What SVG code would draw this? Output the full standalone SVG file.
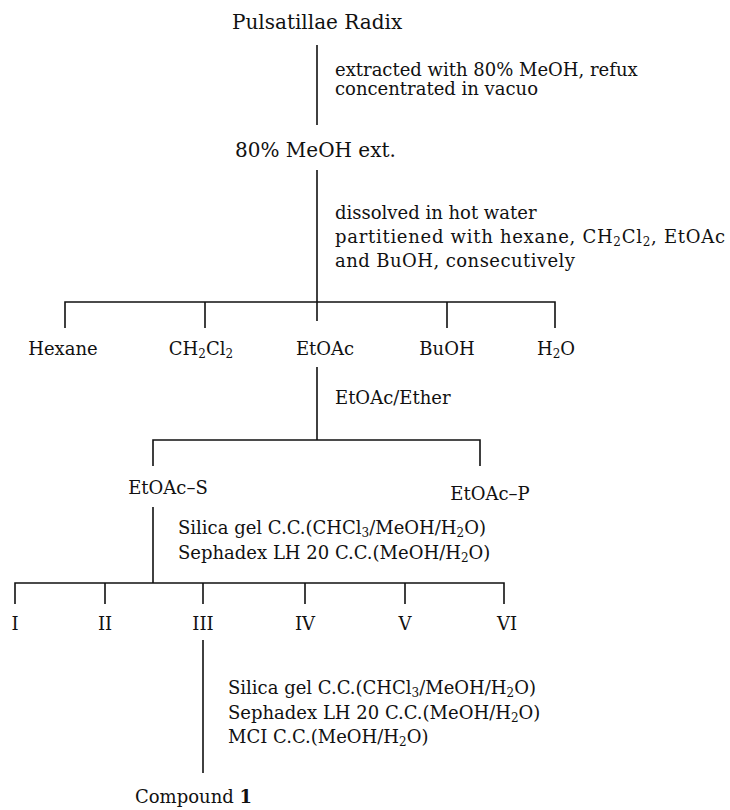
<svg xmlns="http://www.w3.org/2000/svg" width="730" height="810" viewBox="0 0 730 810">
<style>
  text { font-family: "DejaVu Serif", "Liberation Serif", serif; font-size: 18px; fill: #111; }
  .c { text-anchor: middle; }
  .big { font-size: 20px; }
  .ln { stroke: #111; stroke-width: 1.6; fill: none; }
  .s { font-size: 12px; }
</style>
<rect width="730" height="810" fill="#fff"/>
<g id="connectors">
  <path class="ln" d="M317,45 V125"/>
  <path class="ln" d="M317,170 V321"/>
  <path class="ln" d="M65,328 V302 H555 V328 M205,302 V328 M447,302 V328"/>
  <path class="ln" d="M317,367 V440"/>
  <path class="ln" d="M153,466 V440 H480 V466"/>
  <path class="ln" d="M153,507 V583"/>
  <path class="ln" d="M15,604 V583 H504 V604 M105,583 V604 M203,583 V604 M305,583 V604 M405,583 V604"/>
  <path class="ln" d="M203,640 V773"/>
</g>
<g id="labels">
  <text x="335" y="76">extracted with 80% MeOH, refux</text>
  <text x="335" y="95">concentrated in vacuo</text>
  <text x="335" y="219">dissolved in hot water</text>
  <text x="335" y="243" textLength="390" lengthAdjust="spacing">partitiened with hexane, CH<tspan class="s" dy="3">2</tspan><tspan dy="-3">Cl</tspan><tspan class="s" dy="3">2</tspan><tspan dy="-3">, EtOAc</tspan></text>
  <text x="335" y="267" textLength="240" lengthAdjust="spacing">and BuOH, consecutively</text>
  <text x="335" y="404">EtOAc/Ether</text>
  <text x="178" y="534">Silica gel C.C.(CHCl<tspan class="s" dy="3">3</tspan><tspan dy="-3">/MeOH/H</tspan><tspan class="s" dy="3">2</tspan><tspan dy="-3">O)</tspan></text>
  <text x="178" y="559">Sephadex LH 20 C.C.(MeOH/H<tspan class="s" dy="3">2</tspan><tspan dy="-3">O)</tspan></text>
  <text x="228" y="694">Silica gel C.C.(CHCl<tspan class="s" dy="3">3</tspan><tspan dy="-3">/MeOH/H</tspan><tspan class="s" dy="3">2</tspan><tspan dy="-3">O)</tspan></text>
  <text x="228" y="719">Sephadex LH 20 C.C.(MeOH/H<tspan class="s" dy="3">2</tspan><tspan dy="-3">O)</tspan></text>
  <text x="228" y="743">MCI C.C.(MeOH/H<tspan class="s" dy="3">2</tspan><tspan dy="-3">O)</tspan></text>
</g>
<g id="n-radix"><text class="big" x="232" y="29">Pulsatillae Radix</text></g>
<g id="n-meoh"><text class="big" x="235" y="157">80% MeOH ext.</text></g>
<g id="n-hexane"><text class="c" x="63" y="355">Hexane</text></g>
<g id="n-ch2cl2"><text class="c" x="201" y="355">CH<tspan class="s" dy="3">2</tspan><tspan dy="-3">Cl</tspan><tspan class="s" dy="3">2</tspan></text></g>
<g id="n-etoac"><text class="c" x="325" y="355">EtOAc</text></g>
<g id="n-buoh"><text class="c" x="447" y="355">BuOH</text></g>
<g id="n-h2o"><text class="c" x="556" y="355">H<tspan class="s" dy="3">2</tspan><tspan dy="-3">O</tspan></text></g>
<g id="n-etoac-s"><text class="c" x="168" y="494">EtOAc–S</text></g>
<g id="n-etoac-p"><text class="c" x="490" y="500">EtOAc–P</text></g>
<g id="n-i"><text class="c" x="15" y="630">I</text></g>
<g id="n-ii"><text class="c" x="105" y="630">II</text></g>
<g id="n-iii"><text class="c" x="203" y="630">III</text></g>
<g id="n-iv"><text class="c" x="305" y="630">IV</text></g>
<g id="n-v"><text class="c" x="405" y="630">V</text></g>
<g id="n-vi"><text class="c" x="507" y="630">VI</text></g>
<g id="n-compound"><text x="135" y="803">Compound <tspan font-weight="bold">1</tspan></text></g>
</svg>
